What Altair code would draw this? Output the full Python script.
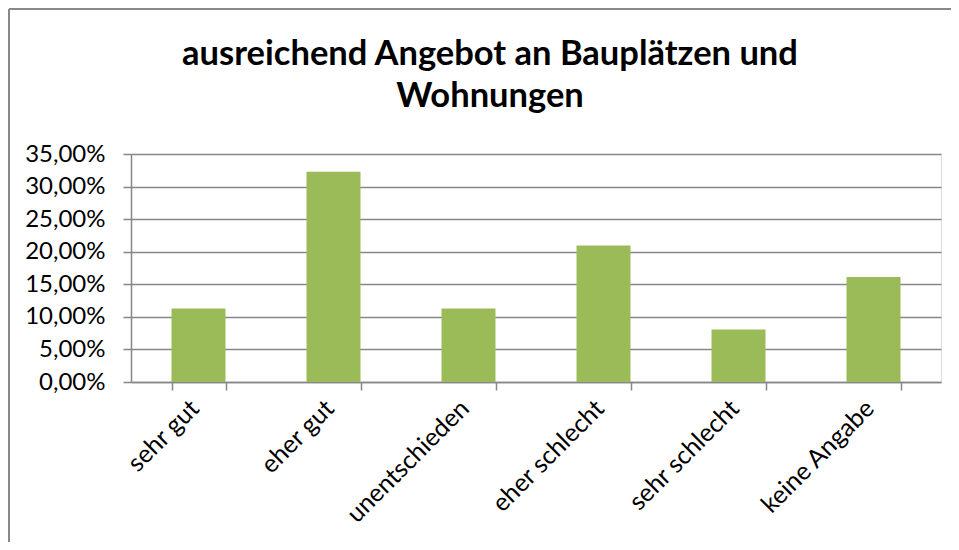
import altair as alt
import pandas as pd

categories = ["sehr gut", "eher gut", "unentschieden", "eher schlecht", "sehr schlecht", "keine Angabe"]
values = [0.1129, 0.3226, 0.1129, 0.2097, 0.0806, 0.1613]
y_ticks = [0, 0.05, 0.10, 0.15, 0.20, 0.25, 0.30, 0.35]
title_lines = ["ausreichend Angebot an Bauplätzen und", "Wohnungen"]

df = pd.DataFrame({"Kategorie": categories, "Anteil": values})

FONT = "Lato"
GRID = "#878787"

bars = alt.Chart(df).mark_bar(color="#9BBB59").encode(
    x=alt.X(
        "Kategorie:N",
        sort=categories,
        title=None,
        scale=alt.Scale(paddingInner=0.6, paddingOuter=0.3),
        axis=alt.Axis(
            labelAngle=-45,
            labelAlign="right",
            labelBaseline="middle",
            labelFont=FONT,
            labelFontSize=25,
            labelColor="#000000",
            labelPadding=14,
            labelOffset=-4,
            tickBand="extent",
            tickSize=8,
            tickColor=GRID,
            tickWidth=1.5,
            domainColor=GRID,
            domainWidth=1.5,
            grid=False,
        ),
    ),
    y=alt.Y(
        "Anteil:Q",
        title=None,
        scale=alt.Scale(domain=[0, 0.35], nice=False),
        axis=alt.Axis(
            values=y_ticks,
            labelExpr="replace(format(datum.value, '.2%'), '.', ',')",
            labelFont=FONT,
            labelFontSize=24,
            labelColor="#000000",
            labelPadding=18,
            tickSize=8,
            tickColor=GRID,
            tickWidth=1.5,
            domainColor=GRID,
            domainWidth=1.5,
            gridColor=GRID,
            gridWidth=1.5,
            gridOpacity=1,
        ),
    ),
)

frame_df = pd.DataFrame({"a": [0]})
left_line = alt.Chart(frame_df).mark_rule(color="#888888", strokeWidth=2).encode(
    x=alt.value(-122), y=alt.value(-145), y2=alt.value(600)
)
top_line = alt.Chart(frame_df).mark_rule(color="#888888", strokeWidth=2).encode(
    x=alt.value(-122), x2=alt.value(1000), y=alt.value(-145)
)

chart = alt.layer(bars, left_line, top_line).properties(
    width=810,
    height=228,
    autosize=alt.AutoSizeParams(type="none"),
    padding={"left": 123, "top": 146, "right": 10, "bottom": 160},
    title=alt.Title(
        text=title_lines,
        font=FONT,
        fontSize=34.5,
        fontWeight="bold",
        color="#000000",
        lineHeight=42,
        anchor="middle",
        frame="group",
        dx=-46,
        offset=-106,
    ),
).configure_view(stroke=None).configure(background="white")

chart.save("out.html", embed_options={"renderer": "svg", "actions": False})
